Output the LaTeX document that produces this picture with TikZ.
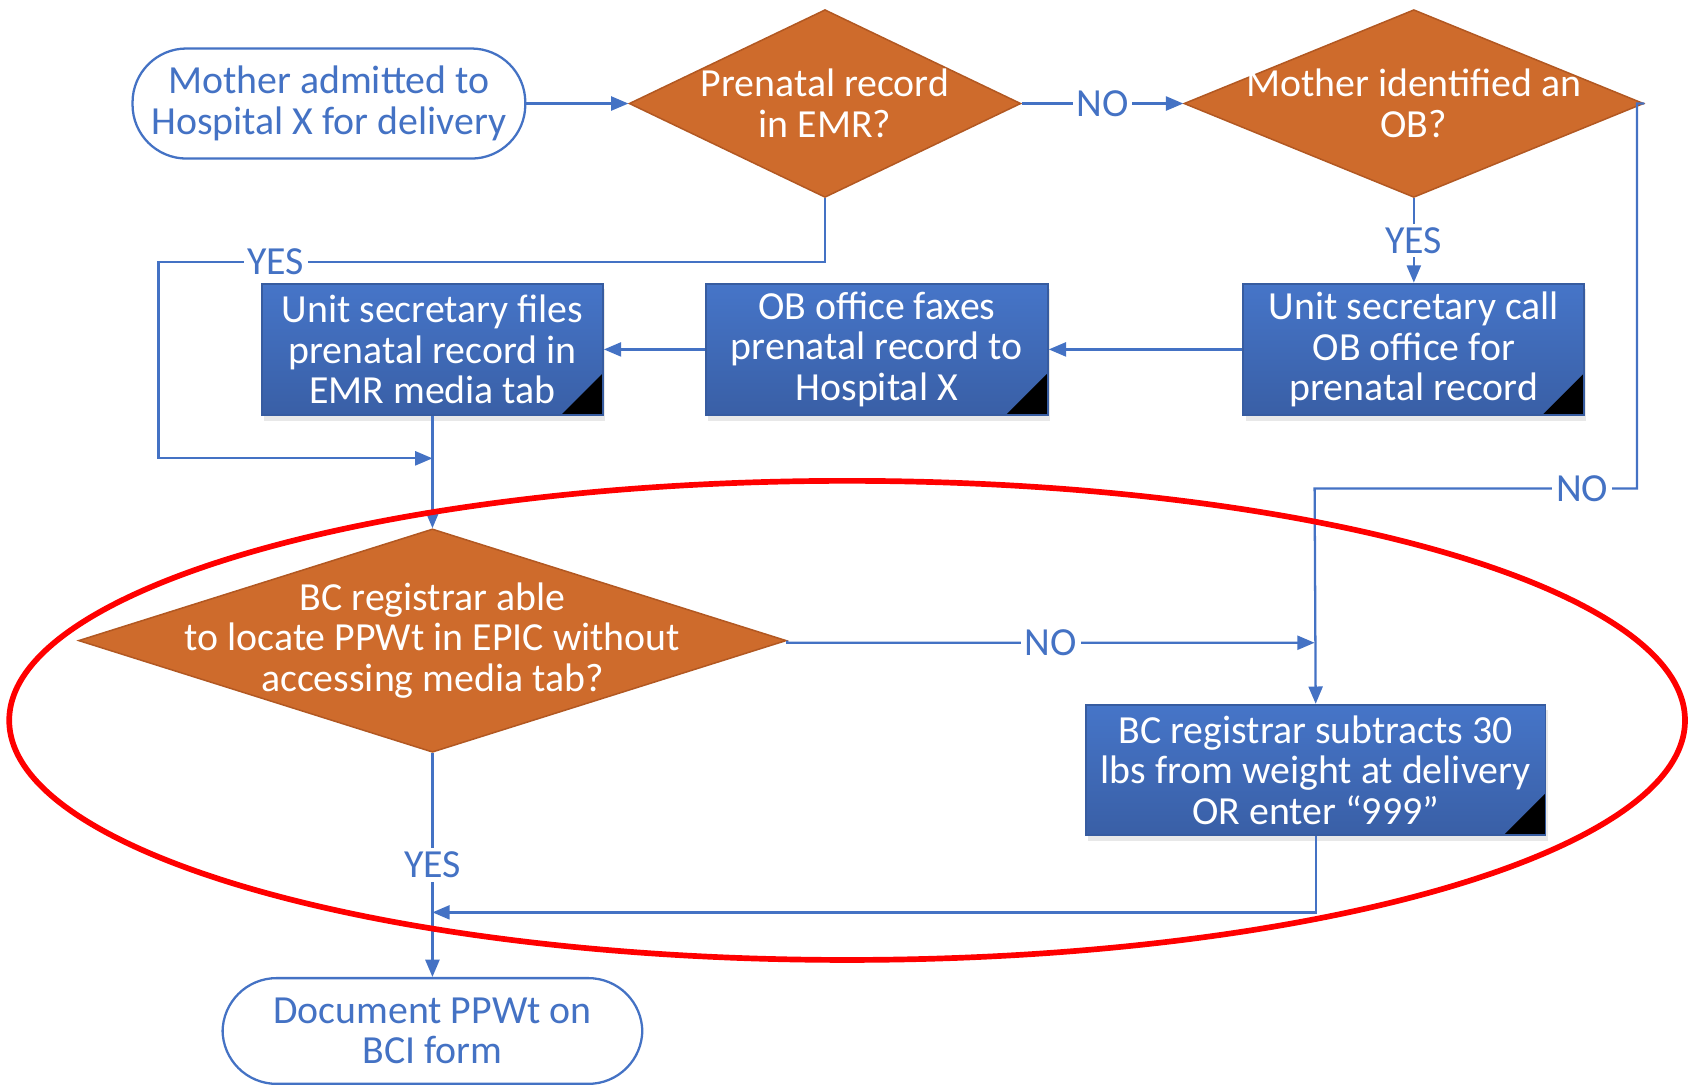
\documentclass[tikz,border=0pt]{standalone}
\usepackage{fontspec}
\setmainfont{Carlito}
\usetikzlibrary{shapes.geometric,arrows.meta,shadows}

\definecolor{flowblue}{RGB}{68,114,196}
\definecolor{boxtop}{RGB}{70,117,200}
\definecolor{boxbot}{RGB}{57,95,166}
\definecolor{boxline}{RGB}{55,92,160}
\definecolor{decfill}{RGB}{206,107,44}
\definecolor{decline}{RGB}{178,88,34}

\newcommand{\flowfont}{\fontsize{10.5}{10.7}\selectfont}

\tikzset{
    flow/.style={draw=flowblue, line width=0.6pt, -{Triangle[length=0.16cm, width=0.13cm]}},
    term/.style={rectangle, rounded corners=0.5cm, draw=flowblue, line width=0.6pt, fill=white,
        text=flowblue, align=center, inner sep=0pt, font=\flowfont},
    decision/.style={diamond, fill=decfill, draw=decline, line width=0.4pt, inner sep=0pt},
    dectext/.style={text=white, align=center, font=\flowfont},
    task/.style={rectangle, draw=boxline, line width=0.5pt, top color=boxtop, bottom color=boxbot,
        text=white, align=center, inner sep=0pt, font=\flowfont,
        drop shadow={opacity=0.18, shadow xshift=0.02cm, shadow yshift=-0.05cm},
        path picture={\fill[black] (path picture bounding box.south east) -- ++(-0.39cm,0pt) -- ++(0.39cm,0.39cm) -- cycle;}},
    lbl/.style={fill=white, text=flowblue, inner sep=1pt, font=\flowfont},
}

\begin{document}
\begin{tikzpicture}[x=0.01cm, y=-0.01cm]
    %\draw[lightgray] (0, 0) grid[step=100] (1568, 1006);
    \useasboundingbox (0, 0) rectangle (1568, 1006);

    \node[term, minimum width=3.64cm, minimum height=1.02cm] (admit) at (305, 96) {Mother admitted to\\Hospital X for delivery};
    \node[decision, minimum width=3.63cm, minimum height=1.74cm] (emr) at (765, 96) {};
    \node[dectext] (emr text) at (emr) {Prenatal record\\in EMR?};
    \node[decision, minimum width=4.26cm, minimum height=1.74cm] (ob) at (1311, 96) {};
    \node[dectext] (ob text) at (ob) {Mother identified an\\OB?};

    \node[task, minimum width=3.16cm, minimum height=1.22cm] (file) at (401, 324) {Unit secretary files\\prenatal record in\\EMR media tab};
    \node[task, minimum width=3.17cm, minimum height=1.22cm] (fax) at (813, 324) {OB office faxes\\prenatal record to\\Hospital X};
    \node[task, minimum width=3.16cm, minimum height=1.22cm] (call) at (1311, 324) {Unit secretary call\\OB office for\\prenatal record};

    \node[decision, minimum width=6.56cm, minimum height=2.07cm] (locate) at (401, 594) {};
    \node[dectext] (locate text) at (locate) {BC registrar able\\to locate PPWt in EPIC without\\accessing media tab?};
    \node[task, minimum width=4.26cm, minimum height=1.21cm] (subtract) at (1220, 714) {BC registrar subtracts 30\\lbs from weight at delivery\\OR enter “999”};
    \node[term, minimum width=3.89cm, minimum height=0.98cm] (document) at (401, 956) {Document PPWt on\\BCI form};

    \coordinate (merge top) at (401, 425);
    \coordinate (merge right) at (1219, 596);
    \coordinate (merge bottom) at (401, 846);

    \draw[flow] (admit) -- (emr);
    \draw[flow] (emr) -- node[lbl] {NO} (ob);
    \draw[flow] (ob) -- node[lbl] {YES} (call);
    \draw[flow] (call) -- (fax);
    \draw[flow] (fax) -- (file);
    \draw[flow] (emr.south) -- (765, 243) -- node[lbl, pos=0.824] {YES} (147, 243) -- (147, 425) -- (merge top);
    \draw[flow] (file) -- (locate);
    \draw[flow] (ob.east) -- (1518, 96) -- (1518, 453) -- node[lbl, pos=0.17] {NO} (1219, 453) -- (subtract.north);
    \draw[flow] (locate.east) -- (730, 596) -- node[lbl] {NO} (merge right);
    \draw[flow] (subtract.south) |- (merge bottom);
    \draw[flow] (locate) -- node[lbl] {YES} (document);

    \draw[red, line width=1.5pt] (785.5, 668) ellipse [x radius=7.765cm, y radius=2.22cm];
\end{tikzpicture}
\end{document}
